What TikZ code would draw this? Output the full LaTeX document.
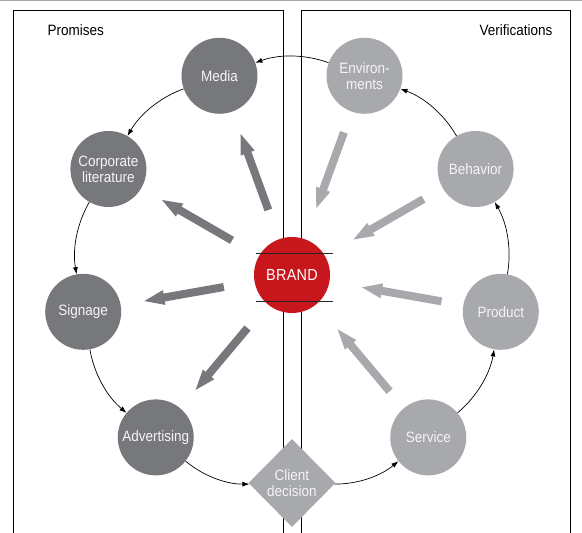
\documentclass[tikz,border=0pt]{standalone}
\usepackage{fontspec}
\newfontfamily\diagfont{Liberation Sans}[FakeStretch=0.9]
\newfontfamily\brandfont{Liberation Sans}[FakeStretch=0.9,LetterSpace=2]
\usepackage{xcolor}
\usepackage{tikz}
\usetikzlibrary{arrows.meta,shapes.geometric,calc}

\definecolor{promisegray}{HTML}{77787B}
\definecolor{verifygray}{HTML}{A7A9AC}
\definecolor{brandred}{HTML}{C8161D}

\tikzset{
  promise/.style={circle, fill=promisegray, minimum size=76pt, inner sep=0pt,
    text=white!96!black, align=center, font=\diagfont\fontsize{15}{16}\selectfont},
  verify/.style={promise, fill=verifygray},
  flow/.style={-{Latex[length=7pt,width=5pt]}, line width=0.7pt, bend right=20, looseness=0.88},
  promisearrow/.style={draw=promisegray, line width=8pt, -{Triangle[length=22pt,width=13pt]},
    shorten <=31pt, shorten >=22pt},
  verifyarrow/.style={draw=verifygray, line width=8pt, -{Triangle[length=22pt,width=13pt]},
    shorten <=22pt, shorten >=31pt},
  heading/.style={font=\diagfont\fontsize{15}{16}\selectfont}
}

\begin{document}
\begin{tikzpicture}[x=1pt,y=1pt]
\useasboundingbox (0,0) rectangle (582,533);
\draw[gray!70, line width=1.5pt] (0,532.5) -- (582,532.5);

% frames
\draw[line width=0.8pt] (13,0) |- (283,523) -- (283,0);
\draw[line width=0.8pt] (301,0) |- (570,523) -- (570,0);
\node[heading, anchor=west] (promtitle) at (44,503) {Promises};
\node[heading, anchor=east] (veriftitle) at (556,503) {Verifications};

% brand
\node[circle, fill=brandred, minimum size=76pt, inner sep=0pt, text=white,
  font=\brandfont\fontsize{16}{17}\selectfont] (brand) at (292,258) {BRAND};
\draw[line width=0.6pt, black!85] ($(brand)+(-36,22)$) -- ++(77,0);
\draw[line width=0.6pt, black!85] ($(brand)+(-36,-26)$) -- ++(77,0);

% promises
\node[promise] (media) at ($(brand)+(110:212)$) {Media};
\node[promise] (corp) at ($(brand)+(150:212)$) {Corporate\\literature};
\node[promise] (signage) at ($(brand)+(190:212)$) {Signage};
\node[promise] (advert) at ($(brand)+(230:212)$) {Advertising};

% verifications
\node[verify] (envir) at ($(brand)+(70:212)$) {Environ-\\ments};
\node[verify] (behavior) at ($(brand)+(30:212)$) {Behavior};
\node[verify] (product) at ($(brand)+(350:212)$) {Product};
\node[verify] (service) at ($(brand)+(310:212)$) {Service};

% client decision
\node[diamond, fill=verifygray, minimum width=87pt, minimum height=88pt, inner sep=0pt,
  text=white!96!black, align=center, font=\diagfont\fontsize{15}{16}\selectfont]
  (client) at ($(brand)+(270:208)$) {Client\\decision};

% cycle
\draw[flow] (envir) to (media);
\draw[flow] (media) to (corp);
\draw[flow] (corp) to (signage);
\draw[flow] (signage) to (advert);
\draw[flow] (advert) to (client);
\draw[flow] (client) to (service);
\draw[flow] (service) to (product);
\draw[flow] (product) to (behavior);
\draw[flow] (behavior) to (envir);

% big arrows
\draw[promisearrow] (brand) -- (media);
\draw[promisearrow] (brand) -- (corp);
\draw[promisearrow] (brand) -- (signage);
\draw[promisearrow] (brand) -- (advert);
\draw[verifyarrow] (envir) -- (brand);
\draw[verifyarrow] (behavior) -- (brand);
\draw[verifyarrow] (product) -- (brand);
\draw[verifyarrow] (service) -- (brand);
\end{tikzpicture}
\end{document}
